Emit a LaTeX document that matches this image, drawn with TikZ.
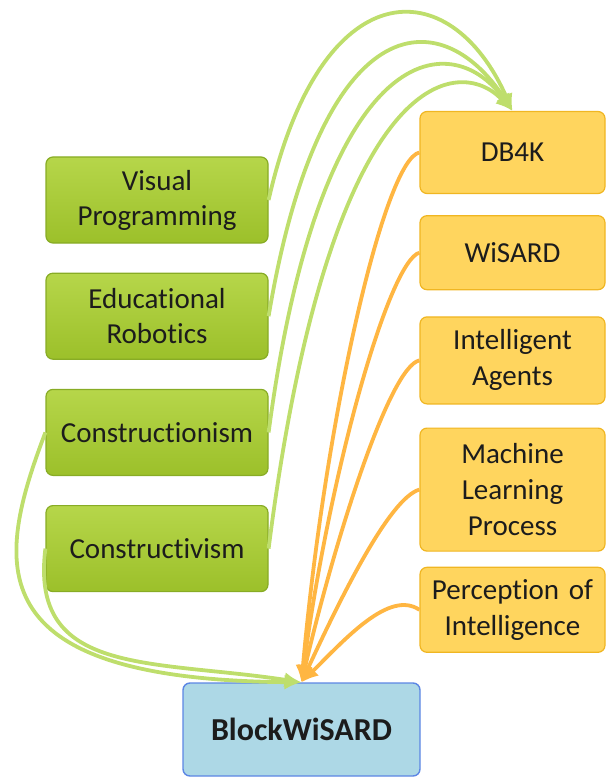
\documentclass[tikz,border=0pt]{standalone}
\usepackage{fontspec}
\setmainfont{Carlito}[Ligatures=NoCommon]
\usepackage{tikz}
\usetikzlibrary{shapes, arrows.meta, positioning}
\definecolor{greentop}{HTML}{B6D64A}
\definecolor{greenbot}{HTML}{9CC02A}
\definecolor{greenedge}{HTML}{88AC25}
\definecolor{greenwire}{HTML}{BEDE6C}
\definecolor{yellowfill}{HTML}{FFD55E}
\definecolor{yellowedge}{HTML}{F0B622}
\definecolor{orangewire}{HTML}{FFB642}
\definecolor{bluefill}{HTML}{ADD8E6}
\definecolor{blueedge}{HTML}{5C86E4}
\definecolor{inktext}{HTML}{1C1C1C}
\tikzstyle{theory} = [rectangle, draw=greenedge, line width=1.2pt, rounded corners=7pt,
    top color=greentop, bottom color=greenbot, text=inktext,
    text width=204pt, inner xsep=9pt, align=center, minimum height=86pt,
    font=\fontsize{29}{35}\selectfont]
\tikzstyle{concept} = [rectangle, draw=yellowedge, line width=1.2pt, rounded corners=7pt,
    fill=yellowfill, text=inktext,
    text width=175pt, inner xsep=5pt, align=center,
    font=\fontsize{29}{36}\selectfont]
\tikzstyle{result} = [rectangle, draw=blueedge, line width=1.4pt, rounded corners=7pt,
    fill=bluefill, text=inktext, minimum width=237pt, minimum height=93pt,
    font=\fontsize{32}{35}\selectfont\bfseries]
\tikzstyle{greenline} = [draw=greenwire, line width=3.8pt, -{Latex[length=17pt, width=15pt]}]
\tikzstyle{orangeline} = [draw=orangewire, line width=3.8pt, -{Latex[length=17pt, width=15pt]}]

\begin{document}
\begin{tikzpicture}[x=1pt, y=-1pt]
    \useasboundingbox (0,0) rectangle (606,778);
    % Nodes
    \node [theory] (visual) at (157,200) {Visual\\Programming};
    \node [theory, below=29pt of visual] (robotics) {Educational\\Robotics};
    \node [theory, below=29pt of robotics] (constructionism) {Constructionism};
    \node [theory, below=29pt of constructionism] (constructivism) {Constructivism};
    \node [concept, minimum height=82pt] (db4k) at (512.5,152.5) {DB4K};
    \node [concept, minimum height=74pt, below=21pt of db4k] (wisard) {WiSARD};
    \node [concept, minimum height=87pt, below=26pt of wisard] (agents) {Intelligent\\Agents};
    \node [concept, minimum height=123pt, below=23pt of agents] (learning) {Machine\\Learning\\Process};
    \node [concept, minimum height=85pt, below=15pt of learning] (perception) {Perception of\\Intelligence};
    \node [result] (block) at (301.5,729.5) {BlockWiSARD};
    % Edges
    \path [greenline] (visual.east) .. controls +(52,-230) and +(-62.5,-141) .. (db4k.north);
    \path [greenline] (robotics.east) .. controls +(52,-310) and +(-72.5,-111) .. (db4k.north);
    \path [greenline] (constructionism.east) .. controls +(52,-393) and +(-62.5,-86) .. (db4k.north);
    \path [greenline] (constructivism.east) .. controls +(62,-487) and +(-52.5,-56) .. (db4k.north);
    \path [greenline] (constructionism.west) .. controls +(-50,131.5) and +(-326.5,-3) .. (block.north);
    \path [greenline] (constructivism.west) .. controls +(-16,127.5) and +(-151.5,-23) .. (block.north);
    \path [orangeline] (db4k.west) .. controls +(-35,7.5) and +(23.5,-263) .. (block.north);
    \path [orangeline] (wisard.west) .. controls +(-30,8.5) and +(28.5,-213) .. (block.north);
    \path [orangeline] (agents.west) .. controls +(-30,6.5) and +(33.5,-143) .. (block.north);
    \path [orangeline] (learning.west) .. controls +(-30,8.5) and +(38.5,-83) .. (block.north);
    \path [orangeline] (perception.west) .. controls +(-30,-20.5) and +(43.5,-43) .. (block.north);
\end{tikzpicture}
\end{document}
